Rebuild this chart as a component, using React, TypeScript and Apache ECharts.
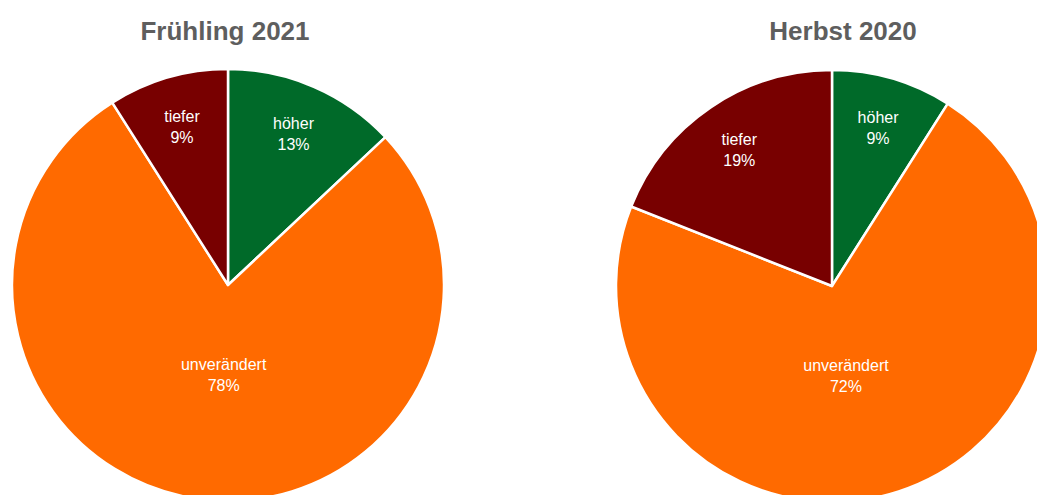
import React, { useEffect, useRef } from "react";
import * as echarts from "echarts";

const categories = ["höher", "unverändert", "tiefer"];
const springValues = [13, 78, 9];
const autumnValues = [9, 72, 19];
const titles = ["Frühling 2021", "Herbst 2020"];
const colors = ["#006a29", "#ff6a00", "#780000"];

const FONT = '"Liberation Sans", Arial, Helvetica, sans-serif';

function buildPies(values: number[], center: number[], r: number, bigShift: number[]) {
  const data = categories.map((name, i) => ({ name, value: values[i] }));
  const label = {
    show: true,
    position: "inside",
    color: "#ffffff",
    fontFamily: FONT,
    fontSize: 16,
    lineHeight: 21,
    formatter: "{b}\n{c}%",
  };
  const base = {
    type: "pie",
    center,
    startAngle: 90,
    clockwise: true,
    avoidLabelOverlap: false,
    labelLine: { show: false },
  };
  const big = values.indexOf(Math.max(...values));
  return [
    {
      ...base,
      radius: [0, r],
      data,
      itemStyle: {
        color: (p: any) => colors[p.dataIndex],
        borderColor: "#ffffff",
        borderWidth: 2.5,
      },
      label: { show: false },
      emphasis: { disabled: true },
    },
    {
      ...base,
      radius: [r * 0.5, r],
      silent: true,
      data: data.map((d, i) => ({ ...d, label: { show: i !== big } })),
      itemStyle: { color: "transparent", borderWidth: 0 },
      label,
      emphasis: { disabled: true },
    },
    {
      ...base,
      radius: [0, r * 0.81],
      silent: true,
      data: data.map((d, i) => ({ ...d, label: { show: i === big } })),
      itemStyle: { color: "transparent", borderWidth: 0 },
      label,
      labelLayout: { dx: bigShift[0], dy: bigShift[1] },
      emphasis: { disabled: true },
    },
  ];
}

export default function App() {
  const ref = useRef<HTMLDivElement>(null);
  useEffect(() => {
    document.body.style.margin = "0";
    const chart = echarts.init(ref.current!, null, { renderer: "svg" });
    const titleStyle = { fontFamily: FONT, fontSize: 26, fontWeight: "bold", color: "#5e5e5e" };
    chart.setOption({
      animation: false,
      backgroundColor: "#ffffff",
      title: [
        { text: titles[0], left: 220, top: 13, textAlign: "center", textStyle: titleStyle },
        { text: titles[1], left: 838, top: 13, textAlign: "center", textStyle: titleStyle },
      ],
      series: [
        ...buildPies(springValues, [228, 285], 216, [7, 0]),
        ...buildPies(autumnValues, [832, 286], 216, [-14, 4]),
      ],
    });
    return () => chart.dispose();
  }, []);
  return <div ref={ref} style={{ width: 1037, height: 495 }} />;
}
